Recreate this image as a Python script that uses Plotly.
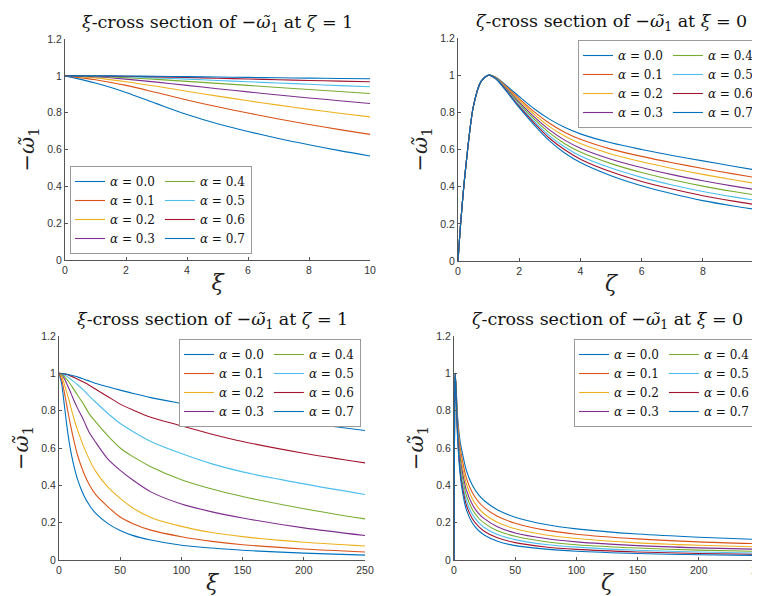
import plotly.graph_objects as go

# ---------------- data ----------------
alphas = ["0.0", "0.1", "0.2", "0.3", "0.4", "0.5", "0.6", "0.7"]
colors = ["#0072BD", "#D95319", "#EDB120", "#7E2F8E", "#77AC30", "#4DBEEE", "#A2142F", "#0072BD"]

# panel 1: xi-cross section at zeta = 1, xi in [0, 10]
xi_short = [0, 1, 2, 3, 4, 5, 6, 7, 8, 9, 10]
p1_a00 = [1, 0.961, 0.910, 0.849, 0.790, 0.740, 0.698, 0.660, 0.626, 0.594, 0.565]
p1_a01 = [1, 0.979, 0.948, 0.909, 0.869, 0.832, 0.798, 0.766, 0.736, 0.708, 0.682]
p1_a02 = [1, 0.989, 0.968, 0.943, 0.916, 0.890, 0.865, 0.841, 0.818, 0.797, 0.777]
p1_a03 = [1, 0.995, 0.982, 0.966, 0.948, 0.930, 0.913, 0.896, 0.880, 0.865, 0.850]
p1_a04 = [1, 0.997, 0.990, 0.981, 0.970, 0.959, 0.948, 0.937, 0.926, 0.915, 0.904]
p1_a05 = [1, 0.999, 0.995, 0.989, 0.982, 0.975, 0.968, 0.961, 0.954, 0.947, 0.941]
p1_a06 = [1, 0.9995, 0.9975, 0.9945, 0.991, 0.987, 0.983, 0.979, 0.975, 0.9715, 0.968]
p1_a07 = [1, 1.000, 0.999, 0.9975, 0.9955, 0.9935, 0.9915, 0.9895, 0.9875, 0.9857, 0.984]

# panel 2: zeta-cross section at xi = 0, zeta in [0, 10]
zeta_short = [0, 0.1, 0.25, 0.5, 0.75, 1, 1.25, 1.5, 2, 2.5, 3, 3.5, 4, 5, 6, 7, 8, 9, 10]
p2_a00 = [0, 0.23, 0.5, 0.83, 0.965, 1, 0.988, 0.955, 0.885, 0.818, 0.762, 0.718, 0.684, 0.636, 0.600, 0.568, 0.539, 0.510, 0.482]
p2_a01 = [0, 0.23, 0.5, 0.83, 0.965, 1, 0.986, 0.950, 0.874, 0.801, 0.740, 0.692, 0.655, 0.602, 0.563, 0.529, 0.498, 0.469, 0.441]
p2_a02 = [0, 0.23, 0.5, 0.83, 0.965, 1, 0.985, 0.946, 0.865, 0.788, 0.722, 0.671, 0.632, 0.576, 0.534, 0.498, 0.466, 0.437, 0.410]
p2_a03 = [0, 0.23, 0.5, 0.83, 0.965, 1, 0.983, 0.942, 0.855, 0.774, 0.704, 0.649, 0.607, 0.548, 0.503, 0.465, 0.432, 0.403, 0.377]
p2_a04 = [0, 0.23, 0.5, 0.83, 0.965, 1, 0.982, 0.939, 0.847, 0.762, 0.688, 0.630, 0.586, 0.524, 0.476, 0.437, 0.403, 0.374, 0.348]
p2_a05 = [0, 0.23, 0.5, 0.83, 0.965, 1, 0.980, 0.936, 0.839, 0.750, 0.672, 0.612, 0.565, 0.500, 0.450, 0.409, 0.374, 0.345, 0.320]
p2_a06 = [0, 0.23, 0.5, 0.83, 0.965, 1, 0.979, 0.933, 0.832, 0.741, 0.659, 0.597, 0.548, 0.480, 0.428, 0.387, 0.351, 0.322, 0.296]
p2_a07 = [0, 0.23, 0.5, 0.83, 0.965, 1, 0.978, 0.930, 0.825, 0.730, 0.645, 0.580, 0.530, 0.459, 0.405, 0.362, 0.325, 0.296, 0.271]

# panel 3: xi-cross section at zeta = 1, xi in [0, 250]
xi_long = [0, 2, 4, 6, 8, 10, 12.5, 15, 20, 25, 30, 40, 50, 60, 75, 100, 125, 150, 200, 250]
p3_a00 = [1, 0.950, 0.850, 0.740, 0.645, 0.570, 0.495, 0.435, 0.350, 0.292, 0.250, 0.195, 0.158, 0.132, 0.107, 0.079, 0.064, 0.052, 0.037, 0.026]
p3_a01 = [1, 0.970, 0.910, 0.840, 0.770, 0.705, 0.630, 0.565, 0.470, 0.400, 0.350, 0.285, 0.230, 0.196, 0.160, 0.125, 0.100, 0.082, 0.059, 0.043]
p3_a02 = [1, 0.985, 0.950, 0.905, 0.860, 0.810, 0.750, 0.700, 0.610, 0.535, 0.475, 0.390, 0.330, 0.280, 0.228, 0.180, 0.147, 0.125, 0.095, 0.075]
p3_a03 = [1, 0.993, 0.975, 0.950, 0.920, 0.890, 0.850, 0.815, 0.750, 0.680, 0.630, 0.540, 0.480, 0.430, 0.365, 0.300, 0.258, 0.225, 0.172, 0.131]
p3_a04 = [1, 0.995, 0.985, 0.970, 0.955, 0.935, 0.910, 0.885, 0.835, 0.780, 0.740, 0.665, 0.600, 0.555, 0.500, 0.430, 0.380, 0.340, 0.275, 0.220]
p3_a05 = [1, 0.998, 0.993, 0.985, 0.976, 0.966, 0.953, 0.940, 0.910, 0.877, 0.845, 0.785, 0.731, 0.690, 0.635, 0.570, 0.515, 0.472, 0.408, 0.351]
p3_a06 = [1, 0.999, 0.997, 0.994, 0.990, 0.985, 0.978, 0.970, 0.953, 0.935, 0.915, 0.875, 0.835, 0.805, 0.765, 0.719, 0.674, 0.635, 0.572, 0.520]
p3_a07 = [1, 0.9995, 0.998, 0.996, 0.993, 0.990, 0.986, 0.981, 0.970, 0.958, 0.946, 0.928, 0.910, 0.893, 0.870, 0.839, 0.809, 0.780, 0.735, 0.694]

# panel 4: zeta-cross section at xi = 0, zeta in [0, 250]
zeta_long = [0, 0.5, 1, 2, 3, 5, 7, 10, 15, 20, 25, 35, 50, 75, 100, 150, 200, 250]
p4_a00 = [0, 0.83, 1, 0.885, 0.762, 0.636, 0.568, 0.482, 0.400, 0.350, 0.316, 0.271, 0.229, 0.190, 0.167, 0.139, 0.122, 0.110]
p4_a01 = [0, 0.83, 1, 0.874, 0.740, 0.602, 0.529, 0.441, 0.360, 0.312, 0.279, 0.236, 0.197, 0.160, 0.138, 0.113, 0.097, 0.087]
p4_a02 = [0, 0.83, 1, 0.865, 0.722, 0.576, 0.498, 0.410, 0.327, 0.278, 0.245, 0.203, 0.167, 0.134, 0.115, 0.092, 0.079, 0.070]
p4_a03 = [0, 0.83, 1, 0.855, 0.704, 0.548, 0.465, 0.377, 0.297, 0.250, 0.220, 0.180, 0.145, 0.115, 0.097, 0.077, 0.065, 0.057]
p4_a04 = [0, 0.83, 1, 0.847, 0.688, 0.524, 0.437, 0.348, 0.270, 0.225, 0.196, 0.158, 0.127, 0.098, 0.082, 0.064, 0.053, 0.046]
p4_a05 = [0, 0.83, 1, 0.839, 0.672, 0.500, 0.409, 0.320, 0.244, 0.201, 0.173, 0.138, 0.109, 0.083, 0.069, 0.052, 0.043, 0.037]
p4_a06 = [0, 0.83, 1, 0.832, 0.659, 0.480, 0.387, 0.296, 0.221, 0.180, 0.153, 0.120, 0.093, 0.070, 0.057, 0.043, 0.035, 0.030]
p4_a07 = [0, 0.83, 1, 0.825, 0.645, 0.459, 0.362, 0.271, 0.198, 0.158, 0.133, 0.102, 0.077, 0.058, 0.047, 0.035, 0.028, 0.024]

y_ticks = [0, 0.2, 0.4, 0.6, 0.8, 1, 1.2]
y_ticklabels = ["0", "0.2", "0.4", "0.6", "0.8", "1", "1.2"]
x_ticks_short = [0, 2, 4, 6, 8, 10]
x_ticks_long = [0, 50, 100, 150, 200, 250]

OMEGA = "−<i>ω̃</i><sub>1</sub>"
panels = [
    dict(x=xi_short, ys=[p1_a00, p1_a01, p1_a02, p1_a03, p1_a04, p1_a05, p1_a06, p1_a07],
         xr=[0, 10], xt=x_ticks_short, xlab="ξ",
         title=f"<i>ξ</i>-cross section of {OMEGA} at <i>ζ</i> = 1"),
    dict(x=zeta_short, ys=[p2_a00, p2_a01, p2_a02, p2_a03, p2_a04, p2_a05, p2_a06, p2_a07],
         xr=[0, 10], xt=x_ticks_short, xlab="ζ",
         title=f"<i>ζ</i>-cross section of {OMEGA} at <i>ξ</i> = 0"),
    dict(x=xi_long, ys=[p3_a00, p3_a01, p3_a02, p3_a03, p3_a04, p3_a05, p3_a06, p3_a07],
         xr=[0, 250], xt=x_ticks_long, xlab="ξ",
         title=f"<i>ξ</i>-cross section of {OMEGA} at <i>ζ</i> = 1"),
    dict(x=zeta_long, ys=[p4_a00, p4_a01, p4_a02, p4_a03, p4_a04, p4_a05, p4_a06, p4_a07],
         xr=[0, 250], xt=x_ticks_long, xlab="ζ",
         title=f"<i>ζ</i>-cross section of {OMEGA} at <i>ξ</i> = 0"),
]

# ---------------- layout geometry ----------------
W, H = 760, 596
px_boxes = [  # left, right, top, bottom in pixels
    (57, 362, 31, 252),
    (450, 756, 30, 253),
    (51, 357, 328, 552),
    (446, 752, 328, 552),
]
legend_pos = [
    dict(x=62 / W, y=1 - 246 / H, xanchor="left", yanchor="bottom"),
    dict(x=752 / W, y=1 - 32 / H, xanchor="right", yanchor="top"),
    dict(x=353 / W, y=1 - 331 / H, xanchor="right", yanchor="top"),
    dict(x=748 / W, y=1 - 331 / H, xanchor="right", yanchor="top"),
]

SERIF = "DejaVu Serif, Liberation Serif, serif"
SANS = "Liberation Sans, Arial, sans-serif"
AX = "#555555"

fig = go.Figure()
layout = dict(
    width=W, height=H, margin=dict(l=0, r=0, t=0, b=0),
    paper_bgcolor="white", plot_bgcolor="white", showlegend=True,
)
annotations = []

for i, p in enumerate(panels):
    n = i + 1
    xa = "x" if n == 1 else f"x{n}"
    ya = "y" if n == 1 else f"y{n}"
    lg = "legend" if n == 1 else f"legend{n}"
    for k, (a, yv) in enumerate(zip(alphas, p["ys"])):
        fig.add_trace(go.Scatter(
            x=p["x"], y=yv, mode="lines",
            line=dict(color=colors[k], width=1.1, shape="spline", smoothing=0.8),
            name=f"<i>α</i> = {a}", xaxis=xa, yaxis=ya, legend=lg,
            legendgroup=f"p{n}g{k // 4}",
        ))
    l, r, t, b = px_boxes[i]
    xkey = "xaxis" if n == 1 else f"xaxis{n}"
    ykey = "yaxis" if n == 1 else f"yaxis{n}"
    layout[xkey] = dict(
        domain=[l / W, r / W], anchor=ya, range=p["xr"], tickvals=p["xt"],
        showline=True, linecolor=AX, linewidth=1, mirror=False, showgrid=False, zeroline=False,
        ticks="inside", ticklen=3, tickcolor=AX, ticklabeloverflow="allow",
        tickfont=dict(family=SANS, size=10.5, color="#333"),
        title=dict(text=f"<i>{p['xlab']}</i>", font=dict(family=SERIF, size=22, color="#222"), standoff=0),
        automargin=False,
    )
    layout[ykey] = dict(
        domain=[1 - b / H, 1 - t / H], anchor=xa, range=[0, 1.2], tickvals=y_ticks, ticktext=y_ticklabels,
        showline=True, linecolor=AX, linewidth=1, mirror=False, showgrid=False, zeroline=False,
        ticks="inside", ticklen=3, tickcolor=AX,
        tickfont=dict(family=SANS, size=10.5, color="#333"),
        title=dict(text=OMEGA, font=dict(family=SERIF, size=21, color="#222"), standoff=6),
        automargin=False,
    )
    layout[lg] = dict(
        **legend_pos[i], orientation="h", traceorder="grouped", tracegroupgap=0,
        bgcolor="white", bordercolor="#9a9a9a", borderwidth=1,
        font=dict(family=SERIF, size=12, color="#111"),
        itemwidth=30, xref="paper", yref="paper",
    )
    annotations.append(dict(
        text=p["title"], xref=f"{xa} domain", yref=f"{ya} domain", x=0.5, y=1.0,
        xanchor="center", yanchor="bottom", yshift=2, showarrow=False,
        font=dict(family=SERIF, size=17.5, color="#111"),
    ))

layout["annotations"] = annotations
fig.update_layout(**layout)
fig.write_html("out.html")
